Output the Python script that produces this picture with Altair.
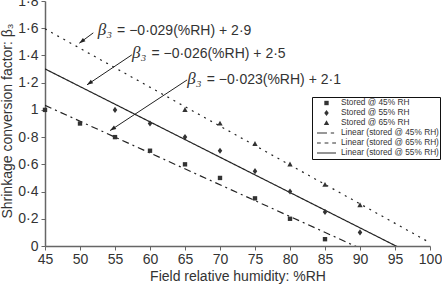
import altair as alt
import pandas as pd

# Measured shrinkage conversion factor for each storage humidity
rh_45 = [45, 50, 55, 60, 65, 70, 75, 80, 85]
beta_45 = [1.0, 0.9, 0.8, 0.7, 0.6, 0.5, 0.35, 0.2, 0.05]

rh_55 = [55, 60, 65, 70, 75, 80, 85, 90]
beta_55 = [1.0, 0.9, 0.8, 0.7, 0.55, 0.4, 0.25, 0.1]

rh_65 = [65, 70, 75, 80, 85, 90]
beta_65 = [1.0, 0.9, 0.75, 0.6, 0.45, 0.3]

stored = ["Stored @ 45% RH", "Stored @ 55% RH", "Stored @ 65% RH"]
linear = ["Linear (stored @ 45% RH)", "Linear (stored @ 65% RH)", "Linear (stored @ 55% RH)"]

x_ticks = [45, 50, 55, 60, 65, 70, 75, 80, 85, 90, 95, 100]
y_ticks = [0, 0.2, 0.4, 0.6, 0.8, 1.0, 1.2, 1.4, 1.6, 1.8]

# Fitted-line equations and the arrows pointing at their lines
eq_text = ["= −0·029(%RH) + 2·9", "= −0·026(%RH) + 2·5", "= −0·023(%RH) + 2·1"]
eq_rh = [55.3, 60.2, 68.1]
eq_beta = [1.552, 1.382, 1.191]

arrow_rh0 = [51.9, 57.4, 65.3]
arrow_b0 = [1.566, 1.404, 1.22]
arrow_rh1 = [49.9, 51.0, 54.3]
arrow_b1 = [1.49, 1.184, 0.848]
arrow_angle = [233.7, 236.3, 236.7]

frames = []
for name, xs, ys in zip(stored, [rh_45, rh_55, rh_65], [beta_45, beta_55, beta_65]):
    frames.append(pd.DataFrame({"RH": xs, "beta": ys, "series": name}))
df = pd.concat(frames, ignore_index=True)

eq_df = pd.DataFrame({"RH": eq_rh, "beta": eq_beta, "text": eq_text, "sym": "β₃"})
arrow_df = pd.DataFrame({"RH": arrow_rh0, "beta": arrow_b0, "RH2": arrow_rh1,
                         "beta2": arrow_b1, "ang": arrow_angle})

ink = "#333333"

# Marker and line-key glyphs (unit paths, all filled) shared by plot and legend
shape_paths = [
    "M-0.23,-0.23H0.23V0.23H-0.23Z",
    "M0,-0.32L0.24,0L0,0.32L-0.24,0Z",
    "M0,-0.3L0.28,0.22L-0.28,0.22Z",
    "M-1,-0.055H0.05V0.055H-1Z M0.45,-0.055H0.8V0.055H0.45Z",
    "M-1,-0.055H-0.6V0.055H-1Z M-0.2,-0.055H0.2V0.055H-0.2Z M0.6,-0.055H1V0.055H0.6Z",
    "M-1,-0.055H1V0.055H-1Z",
]

x_scale = alt.Scale(domain=[45, 100], nice=False, zero=False)
y_scale = alt.Scale(domain=[0, 1.8], nice=False)

x_axis = alt.Axis(values=x_ticks, tickCount=30, title="Field relative humidity: %RH",
                  titlePadding=3, labelPadding=2, labelOverlap=False, labelFlush=False)
y_axis = alt.Axis(values=y_ticks, tickCount=30, title="Shrinkage conversion factor: β₃",
                  labelExpr="replace(format(datum.value, '~g'), '.', '·')",
                  labelPadding=3, labelOverlap=False, labelFlush=False,
                  titleX=-37.5, titleY=119.5, titleAngle=-90, titleAlign="center",
                  titleBaseline="middle")

base = alt.Chart(df)

fits = base.transform_regression(
    "RH", "beta", groupby=["series"], extent=[45, 100]
).mark_line(clip=True, color="#222222", strokeWidth=1.2).encode(
    x=alt.X("RH:Q", scale=x_scale, axis=x_axis),
    y=alt.Y("beta:Q", scale=y_scale, axis=y_axis),
    strokeDash=alt.StrokeDash("series:N", scale=alt.Scale(
        domain=stored, range=[[7, 4, 2, 4], [1, 0], [2, 5]]), legend=None),
)

points = base.mark_point(filled=True, fill=ink, size=361, opacity=1).encode(
    x=alt.X("RH:Q", scale=x_scale, axis=x_axis),
    y=alt.Y("beta:Q", scale=y_scale, axis=y_axis),
    shape=alt.Shape("series:N", scale=alt.Scale(domain=stored + linear, range=shape_paths),
                    legend=alt.Legend(
                        title=None, orient="none", legendX=267, legendY=96,
                        padding=1, symbolOffset=3, clipHeight=10, rowPadding=0,
                        labelFont="Liberation Sans", labelFontSize=8.3,
                        labelColor=ink, labelOffset=4, symbolSize=361,
                        symbolFillColor=ink,
                        strokeColor="#111111", fillColor="white")),
)

arrows = alt.Chart(arrow_df).mark_rule(color="#222222", strokeWidth=1).encode(
    x="RH:Q", y="beta:Q", x2="RH2:Q", y2="beta2:Q")

heads = alt.Chart(arrow_df).mark_point(
    shape="M0,0L0.5,1.4L-0.5,1.4Z", filled=True, fill="#222222", size=74, opacity=1
).encode(x="RH2:Q", y="beta2:Q", angle=alt.Angle("ang:Q", scale=None))

eq_sym = alt.Chart(eq_df).mark_text(
    align="right", baseline="alphabetic", dx=-5, font="Liberation Serif",
    fontStyle="italic", fontSize=17, color=ink
).encode(x="RH:Q", y="beta:Q", text="sym:N")

eq_body = alt.Chart(eq_df).mark_text(
    align="left", baseline="alphabetic", font="Liberation Sans", fontSize=14, color=ink
).encode(x="RH:Q", y="beta:Q", text="text:N")

chart = alt.layer(fits, points, arrows, heads, eq_sym, eq_body).properties(
    width=385, height=245,
    autosize=alt.AutoSizeParams(type="none"),
    padding={"left": 45, "top": 1, "right": 12, "bottom": 40},
).configure_view(stroke=None).configure_axis(
    grid=False, domainColor="#666666", domainWidth=1.5, tickColor="#666666",
    tickSize=4, labelFont="Liberation Sans", labelFontSize=14, labelColor=ink,
    titleFont="Liberation Sans", titleFontSize=14, titleFontWeight="normal",
    titleColor=ink, labelOverlap=False,
)

chart.save("out.html", embed_options={"renderer": "svg", "actions": False})
